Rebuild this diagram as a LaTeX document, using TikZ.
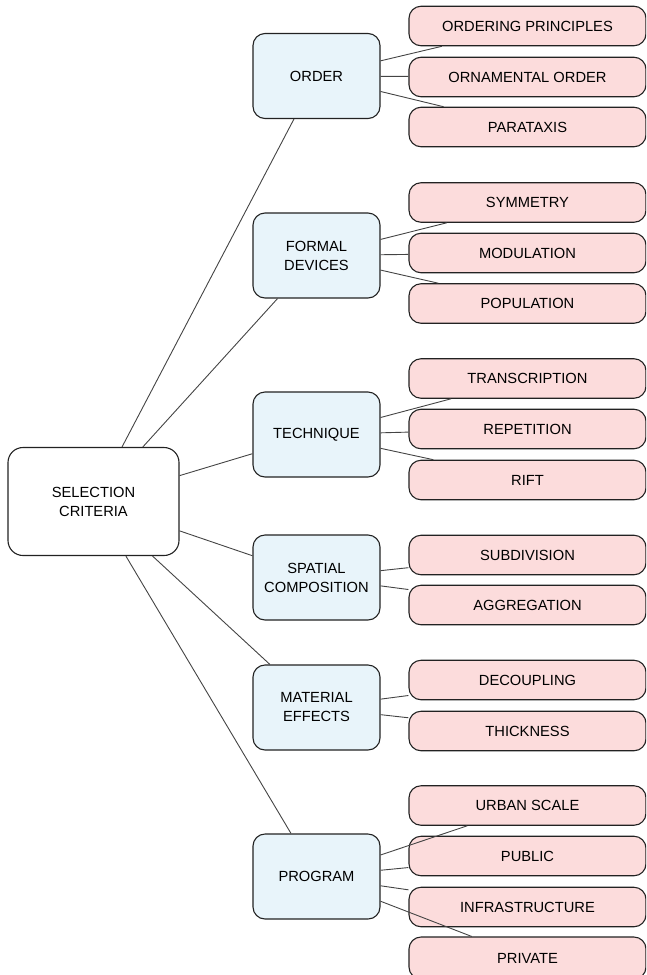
\documentclass[tikz,border=0pt]{standalone}
\usepackage{fontspec}
\setmainfont{Liberation Sans}
\definecolor{midfill}{HTML}{E8F4FA}
\definecolor{leaffill}{HTML}{FCDCDC}
\definecolor{edgecol}{HTML}{222222}
\definecolor{linkcol}{HTML}{444444}
\begin{document}
\begin{tikzpicture}[x=1pt,y=-1pt,
  box/.style={draw=edgecol,line width=1.1pt,rounded corners=12pt,inner sep=0pt,align=center,
    font=\fontsize{14.7}{19}\selectfont},
  rootbox/.style={box,fill=white,minimum width=171pt,minimum height=108pt,rounded corners=15pt},
  midbox/.style={box,fill=midfill,minimum width=127pt,minimum height=85pt},
  leafbox/.style={box,fill=leaffill,minimum width=237pt,minimum height=39.5pt},
  link/.style={draw=linkcol,line width=0.9pt}]
\useasboundingbox (0,0) rectangle (646,975);
\clip (0,0) rectangle (646,975);
\node[rootbox] (root) at (93.5,501.5) {SELECTION\\CRITERIA};
\node[midbox] (order) at (316.5,76) {ORDER};
\node[midbox] (formal) at (316.5,255.5) {FORMAL\\DEVICES};
\node[midbox] (tech) at (316.5,434.5) {TECHNIQUE};
\node[midbox] (spatial) at (316.5,577.5) {SPATIAL\\COMPOSITION};
\node[midbox] (material) at (316.5,707.5) {MATERIAL\\EFFECTS};
\node[midbox] (program) at (316.5,876.5) {PROGRAM};
\node[leafbox] (l1) at (527.5,26) {ORDERING PRINCIPLES};
\node[leafbox] (l2) at (527.5,77) {ORNAMENTAL ORDER};
\node[leafbox] (l3) at (527.5,127) {PARATAXIS};
\node[leafbox] (l4) at (527.5,202.5) {SYMMETRY};
\node[leafbox] (l5) at (527.5,253) {MODULATION};
\node[leafbox] (l6) at (527.5,303.5) {POPULATION};
\node[leafbox] (l7) at (527.5,378.5) {TRANSCRIPTION};
\node[leafbox] (l8) at (527.5,429) {REPETITION};
\node[leafbox] (l9) at (527.5,480) {RIFT};
\node[leafbox] (l10) at (527.5,555) {SUBDIVISION};
\node[leafbox] (l11) at (527.5,605) {AGGREGATION};
\node[leafbox] (l12) at (527.5,680) {DECOUPLING};
\node[leafbox] (l13) at (527.5,731) {THICKNESS};
\node[leafbox] (l14) at (527.5,805.5) {URBAN SCALE};
\node[leafbox] (l15) at (527.5,856) {PUBLIC};
\node[leafbox] (l16) at (527.5,907) {INFRASTRUCTURE};
\node[leafbox,minimum height=42pt] (l17) at (527.5,958) {PRIVATE};
\foreach \m in {order,formal,tech,spatial,material,program}
  \draw[link] (root) -- (\m);
\foreach \l in {l1,l2,l3} \draw[link] (order) -- (\l);
\foreach \l in {l4,l5,l6} \draw[link] (formal) -- (\l);
\foreach \l in {l7,l8,l9} \draw[link] (tech) -- (\l);
\foreach \l in {l10,l11} \draw[link] (spatial) -- (\l);
\foreach \l in {l12,l13} \draw[link] (material) -- (\l);
\foreach \l in {l14,l15,l16,l17} \draw[link] (program) -- (\l);
\end{tikzpicture}
\end{document}
